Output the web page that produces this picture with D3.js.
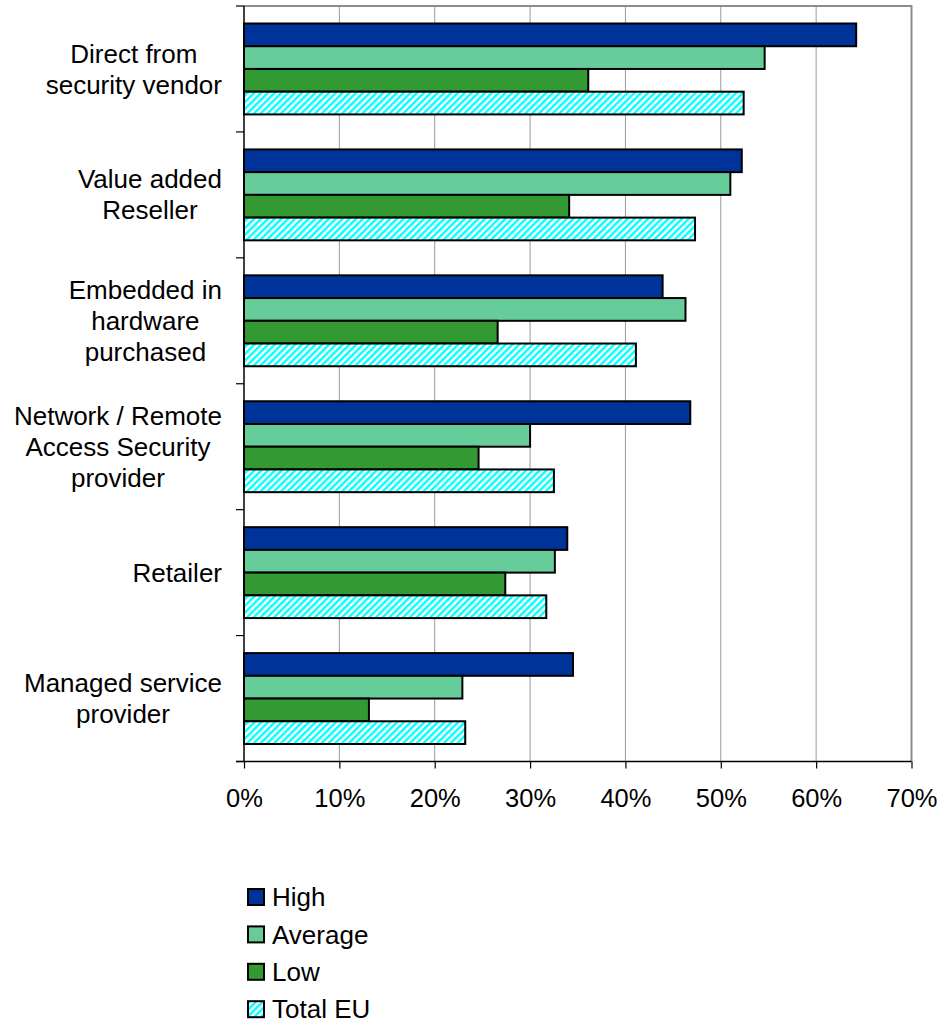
<!DOCTYPE html>
<html>
<head>
<meta charset="utf-8">
<script src="https://cdn.jsdelivr.net/npm/d3@7"></script>
<style>
  html, body { margin: 0; padding: 0; background: #fff; }
  svg { display: block; font-family: "Liberation Sans", Arial, Helvetica, sans-serif; }
</style>
</head>
<body>
<svg id="chart" width="941" height="1023"></svg>
<script>
// Purchase channels (top to bottom), each label split into its display lines
const categories = [
  "Direct from security vendor",
  "Value added Reseller",
  "Embedded in hardware purchased",
  "Network / Remote Access Security provider",
  "Retailer",
  "Managed service provider"
];
const categoryLines = [
  ["Direct from", "security vendor"],
  ["Value added", "Reseller"],
  ["Embedded in", "hardware", "purchased"],
  ["Network / Remote", "Access Security", "provider"],
  ["Retailer"],
  ["Managed service", "provider"]
];

const seriesNames = ["High", "Average", "Low", "Total EU"];

// Share of respondents per channel (fractions)
const highValues    = [0.642, 0.522, 0.439, 0.468, 0.339, 0.345];
const averageValues = [0.546, 0.510, 0.463, 0.300, 0.326, 0.229];
const lowValues     = [0.361, 0.341, 0.266, 0.246, 0.274, 0.131];
const totalValues   = [0.524, 0.473, 0.411, 0.325, 0.317, 0.232];

const xTicks = [0, 0.1, 0.2, 0.3, 0.4, 0.5, 0.6, 0.7];

const seriesValues = [highValues, averageValues, lowValues, totalValues];
const fills = ["#003399", "#66CC99", "#339933", "url(#hatch)"];

const svg = d3.select("#chart");

// Diagonal cyan/white hatch used by the Total EU series
const defs = svg.append("defs");
const pat = defs.append("pattern")
  .attr("id", "hatch")
  .attr("patternUnits", "userSpaceOnUse")
  .attr("width", 4.8).attr("height", 4.8)
  .attr("patternTransform", "rotate(45)");
pat.append("rect").attr("width", 4.8).attr("height", 4.8).attr("fill", "#ffffff");
pat.append("rect").attr("width", 2.4).attr("height", 4.8).attr("fill", "#00FFFF");

const plot = { left: 244, right: 911.5, top: 6, bottom: 761.5 };

const x = d3.scaleLinear().domain([0, 0.7]).range([plot.left, plot.right]);
const y = d3.scaleBand().domain(categories).range([plot.top, plot.bottom]).padding(0);
const ySub = d3.scaleBand().domain(seriesNames).range([0, y.bandwidth()])
  .paddingInner(0).paddingOuter(0.77);

// Vertical gridlines
svg.append("g").selectAll("line")
  .data(xTicks.filter(t => t > 0 && t < 0.7))
  .join("line")
  .attr("x1", d => x(d)).attr("x2", d => x(d))
  .attr("y1", plot.top).attr("y2", plot.bottom)
  .attr("stroke", "#9a9a9a").attr("stroke-width", 1);

// Plot frame (top and right)
svg.append("path")
  .attr("d", `M${plot.left},${plot.top}H${plot.right}V${plot.bottom}`)
  .attr("fill", "none").attr("stroke", "#8c8c8c").attr("stroke-width", 2);

// Bars
const rows = categories.map((c, i) => ({
  cat: c,
  vals: seriesNames.map((s, j) => ({ series: s, j, v: seriesValues[j][i] }))
}));

const groups = svg.append("g").selectAll("g")
  .data(rows).join("g")
  .attr("transform", d => `translate(0,${y(d.cat)})`);

groups.selectAll("rect")
  .data(d => d.vals).join("rect")
  .attr("x", x(0))
  .attr("y", d => ySub(d.series))
  .attr("width", d => x(d.v) - x(0))
  .attr("height", ySub.bandwidth())
  .attr("fill", d => fills[d.j])
  .attr("stroke", "#000").attr("stroke-width", 2);

// Left axis with ticks at category boundaries
const edges = categories.map(c => y(c)).concat([plot.bottom]);
const yAxis = svg.append("g");
yAxis.append("line")
  .attr("x1", plot.left).attr("x2", plot.left)
  .attr("y1", plot.top).attr("y2", plot.bottom)
  .attr("stroke", "#000").attr("stroke-width", 1.5);
yAxis.selectAll("line.tick")
  .data(edges).join("line")
  .attr("class", "tick")
  .attr("x1", plot.left - 8).attr("x2", plot.left)
  .attr("y1", d => d).attr("y2", d => d)
  .attr("stroke", "#000").attr("stroke-width", 1.2);

// Category labels: each block centred on itself, right edge near the axis
const lineH = 31;
const labels = svg.append("g")
  .attr("font-size", 26).attr("fill", "#000");
categories.forEach((c, i) => {
  const lines = categoryLines[i];
  const cy = y(c) + y.bandwidth() / 2;
  const t = labels.append("text").attr("text-anchor", "middle");
  lines.forEach((ln, k) => {
    t.append("tspan")
      .attr("y", cy + (k - (lines.length - 1) / 2) * lineH)
      .attr("dy", "0.35em")
      .text(ln);
  });
  const widths = [];
  t.selectAll("tspan").each(function () { widths.push(this.getComputedTextLength()); });
  const w = d3.max(widths);
  t.selectAll("tspan").attr("x", plot.left - 22 - w / 2);
});

// Bottom axis
const xAxis = svg.append("g")
  .attr("transform", `translate(0,${plot.bottom})`)
  .call(d3.axisBottom(x).tickValues(xTicks).tickFormat(d3.format(".0%"))
    .tickSize(7).tickPadding(20).tickSizeOuter(0));
xAxis.select(".domain")
  .attr("d", `M${plot.left - 8},0H${plot.right}`)
  .attr("stroke", "#000").attr("stroke-width", 1.5);
xAxis.selectAll(".tick line").attr("stroke", "#000").attr("stroke-width", 1.2);
xAxis.selectAll(".tick text")
  .attr("font-size", 25.5).attr("fill", "#000")
  .attr("font-family", "'Liberation Sans', Arial, sans-serif");

// Legend
const legend = svg.append("g").attr("transform", "translate(248,889)");
const li = legend.selectAll("g")
  .data(seriesNames).join("g")
  .attr("transform", (d, i) => `translate(0,${i * 37.4})`);
li.append("rect")
  .attr("x", 0).attr("y", 0)
  .attr("width", 16).attr("height", 16)
  .attr("fill", (d, i) => fills[i])
  .attr("stroke", "#000").attr("stroke-width", 2);
li.append("text")
  .attr("x", 24).attr("y", 8).attr("dy", "0.35em")
  .attr("font-size", 26).attr("fill", "#000")
  .text(d => d);
</script>
</body>
</html>
